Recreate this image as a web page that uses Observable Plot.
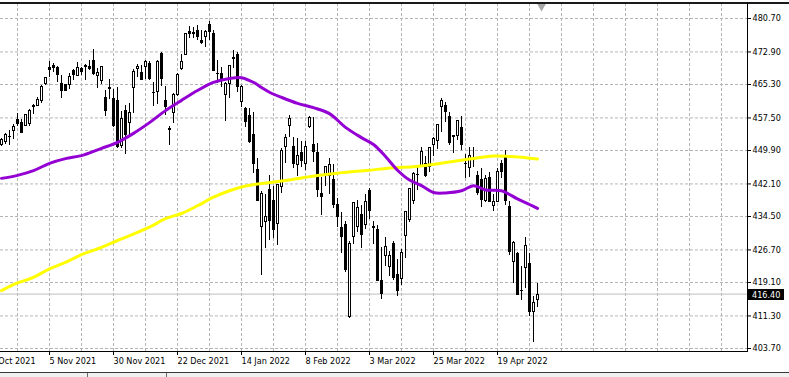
<!DOCTYPE html>
<html><head><meta charset="utf-8">
<script src="https://cdn.jsdelivr.net/npm/d3@7"></script>
<script src="https://cdn.jsdelivr.net/npm/@observablehq/plot@0.6"></script>
<style>
html,body{margin:0;padding:0;background:#fff;overflow:hidden}
svg{display:block}
</style></head><body><div id="chart"></div>
<script>
// Daily bars (trading days)
const dates = [
"2021-10-14","2021-10-15","2021-10-18","2021-10-19",
"2021-10-20","2021-10-21","2021-10-22","2021-10-25","2021-10-26","2021-10-27","2021-10-28","2021-10-29",
"2021-11-01","2021-11-02","2021-11-03","2021-11-04","2021-11-05","2021-11-08","2021-11-09","2021-11-10","2021-11-11","2021-11-12","2021-11-15","2021-11-16","2021-11-17","2021-11-18","2021-11-19","2021-11-22","2021-11-23","2021-11-24","2021-11-26","2021-11-29","2021-11-30",
"2021-12-01","2021-12-02","2021-12-03","2021-12-06","2021-12-07","2021-12-08","2021-12-09","2021-12-10","2021-12-13","2021-12-14","2021-12-15","2021-12-16","2021-12-17","2021-12-20","2021-12-21","2021-12-22","2021-12-23","2021-12-27","2021-12-28","2021-12-29","2021-12-30","2021-12-31",
"2022-01-03","2022-01-04","2022-01-05","2022-01-06","2022-01-07","2022-01-10","2022-01-11","2022-01-12","2022-01-13","2022-01-14","2022-01-18","2022-01-19","2022-01-20","2022-01-21","2022-01-24","2022-01-25","2022-01-26","2022-01-27","2022-01-28","2022-01-31",
"2022-02-01","2022-02-02","2022-02-03","2022-02-04","2022-02-07","2022-02-08","2022-02-09","2022-02-10","2022-02-11","2022-02-14","2022-02-15","2022-02-16","2022-02-17","2022-02-18","2022-02-22","2022-02-23","2022-02-24","2022-02-25","2022-02-28",
"2022-03-01","2022-03-02","2022-03-03","2022-03-04","2022-03-07","2022-03-08","2022-03-09","2022-03-10","2022-03-11","2022-03-14","2022-03-15","2022-03-16","2022-03-17","2022-03-18","2022-03-21","2022-03-22","2022-03-23","2022-03-24","2022-03-25","2022-03-28","2022-03-29","2022-03-30","2022-03-31",
"2022-04-01","2022-04-04","2022-04-05","2022-04-06","2022-04-07","2022-04-08","2022-04-11","2022-04-12","2022-04-13","2022-04-14","2022-04-18","2022-04-19","2022-04-20","2022-04-21","2022-04-22","2022-04-25","2022-04-26","2022-04-27","2022-04-28","2022-04-29",
"2022-05-02","2022-05-03"];

const open = [439.08,444.75,443.97,448.92,
451.13,451.77,453.13,454.28,457.20,456.45,455.46,455.87,
460.30,460.22,461.30,465.36,469.28,469.70,469.32,465.58,465.21,465.12,468.64,467.15,469.00,469.24,469.61,470.89,467.22,466.06,462.34,464.07,462.00,
461.64,450.73,459.17,456.13,464.41,468.70,468.15,469.23,470.19,463.09,463.42,472.57,461.55,454.48,458.61,462.79,468.75,472.06,477.72,476.98,477.93,475.64,
476.30,479.22,477.16,467.89,467.95,462.70,465.23,471.59,472.19,461.19,459.74,458.13,453.75,445.56,432.03,433.06,440.72,438.26,432.68,441.24,
450.68,455.50,450.95,446.35,449.51,446.73,455.22,451.34,449.41,439.92,443.73,443.93,443.22,437.33,431.89,432.66,411.02,429.61,432.03,
435.04,432.37,440.47,431.75,431.55,419.62,425.14,422.52,428.12,420.89,419.77,429.89,433.59,438.00,444.34,445.86,446.91,445.94,451.16,452.06,460.02,460.34,457.89,
453.31,453.13,455.22,446.89,445.59,447.97,444.11,443.08,438.03,443.55,436.81,437.86,446.92,448.54,436.91,423.67,425.83,417.24,422.29,423.59,
412.07,415.01];

const high = [442.66,446.26,447.55,450.71,
452.73,453.83,454.67,455.90,458.49,457.16,458.40,459.56,
460.70,462.23,465.15,467.00,470.65,470.23,469.57,467.38,465.29,467.86,468.81,470.49,469.19,470.01,470.94,473.54,469.10,469.57,463.90,466.56,464.03,
464.67,459.07,460.30,460.79,468.88,470.00,469.63,470.90,470.56,465.74,470.86,472.87,464.74,455.40,463.21,467.81,472.19,477.31,478.81,478.56,479.00,477.85,
477.85,479.98,477.98,470.82,469.20,465.74,469.85,473.20,472.88,465.09,459.96,459.61,458.74,448.06,440.38,439.72,444.04,441.59,442.00,450.28,
453.63,458.12,452.97,452.78,451.99,451.92,457.88,457.71,451.61,443.50,446.28,448.06,446.57,438.66,435.50,433.26,428.76,437.84,438.20,
437.17,439.72,441.11,433.37,432.30,427.21,429.51,426.43,428.77,424.55,426.84,435.68,441.07,444.86,446.46,450.58,448.49,450.50,452.98,455.91,462.07,461.20,458.76,
453.46,456.91,457.83,448.93,450.69,450.63,445.00,445.75,444.11,444.73,439.75,445.80,447.57,450.01,438.08,428.69,426.04,422.92,429.64,425.87,
415.92,418.93];

const low = [438.58,444.09,443.27,448.27,
450.80,451.31,451.05,452.39,455.56,453.86,455.45,455.56,
458.20,460.08,460.83,464.99,466.92,468.20,465.88,462.04,463.75,464.11,466.23,467.07,467.48,466.34,468.50,467.35,464.45,465.19,457.77,461.73,455.30,
450.29,450.31,448.92,453.56,458.65,466.83,466.14,466.51,466.27,460.25,460.74,464.80,458.06,451.14,456.31,462.58,468.64,472.01,476.06,475.92,475.67,474.67,
473.85,475.58,468.28,465.43,464.65,456.60,462.05,468.94,463.44,459.90,455.31,451.46,444.50,437.95,420.76,427.15,428.86,429.45,427.82,439.81,
446.94,453.05,445.71,443.83,445.85,445.22,455.00,447.20,438.94,434.84,441.53,439.69,436.42,431.82,425.86,421.35,410.64,427.86,430.70,
427.11,431.57,433.80,427.88,419.36,415.12,422.82,420.44,419.53,415.79,418.42,424.80,433.19,437.22,440.68,445.86,443.71,444.76,448.43,450.06,454.14,456.47,451.16,
449.14,452.26,449.82,443.47,443.53,445.94,439.39,436.65,437.84,437.68,435.61,437.68,443.48,437.10,425.44,418.84,416.07,415.01,417.60,411.21,
405.02,413.36];

const close = [442.50,445.87,447.19,450.64,
452.41,453.59,453.12,455.55,455.96,453.94,458.32,459.25,
460.04,461.90,464.72,466.91,468.53,468.93,467.38,463.62,463.77,467.27,467.43,469.28,468.14,469.73,468.89,467.57,468.19,469.44,458.97,464.60,455.56,
450.50,457.40,453.42,458.79,468.28,469.52,466.35,470.74,466.57,463.36,470.60,466.45,459.87,454.98,463.06,467.69,470.60,477.26,476.87,477.48,476.16,474.96,
477.71,477.55,468.38,467.94,466.09,465.51,469.75,471.02,464.53,464.72,456.49,451.75,446.75,437.98,439.84,434.47,433.38,431.24,441.95,449.91,
452.95,457.35,446.60,448.70,447.26,450.94,457.54,449.32,440.46,439.02,446.10,446.60,437.06,434.23,429.57,421.95,428.30,437.75,436.63,
429.98,437.89,435.71,432.17,419.43,416.25,427.41,425.48,420.07,417.00,426.17,435.62,441.07,444.52,444.39,449.59,443.80,450.49,452.69,455.91,461.55,458.70,451.64,
452.92,456.80,451.03,446.52,448.77,447.57,439.92,438.29,443.31,437.79,437.97,445.04,444.71,438.06,426.04,428.51,416.10,417.27,427.81,412.00,
414.48,416.38];

const ma50Dates = ["2021-10-20","2021-10-26","2021-11-01","2021-11-05","2021-11-11","2021-11-17","2021-11-24","2021-12-01","2021-12-07","2021-12-13","2021-12-17","2021-12-23","2021-12-30","2022-01-05","2022-01-11","2022-01-14","2022-01-20","2022-01-24","2022-01-26","2022-01-31","2022-02-04","2022-02-10","2022-02-16","2022-02-23","2022-03-01","2022-03-04","2022-03-09","2022-03-14","2022-03-17","2022-03-22","2022-03-25","2022-03-30","2022-04-05","2022-04-08","2022-04-13","2022-04-20","2022-04-26","2022-04-29","2022-05-03"];
const ma50Values = [443.4,444.1,445.2,446.9,448.0,448.7,450.4,451.8,453.9,456.4,459.2,461.6,463.9,465.8,466.7,466.9,465.8,464.6,463.5,462.3,460.9,459.9,458.5,455.3,452.9,451.3,448.5,445.3,443.0,441.7,440.1,440.0,440.5,441.7,440.7,440.5,438.6,437.3,436.4];

const ma200Dates = ["2021-10-20","2021-10-26","2021-11-01","2021-11-05","2021-11-11","2021-11-17","2021-11-24","2021-12-01","2021-12-07","2021-12-13","2021-12-17","2021-12-23","2021-12-30","2022-01-05","2022-01-11","2022-01-18","2022-01-24","2022-01-31","2022-02-07","2022-02-14","2022-02-18","2022-02-25","2022-03-03","2022-03-11","2022-03-18","2022-03-23","2022-03-31","2022-04-07","2022-04-18","2022-04-22","2022-04-27","2022-05-03"];
const ma200Values = [417.2,419.0,420.3,422.3,423.8,425.6,427.3,428.9,430.4,432.0,434.0,435.2,437.0,439.0,440.5,441.6,442.2,442.8,443.5,444.2,444.6,445.0,445.3,445.9,446.1,446.4,447.2,447.9,448.6,448.5,448.3,447.9];

const yTicks = [480.70,472.90,465.30,457.50,449.90,442.10,434.50,426.70,419.10,411.30,403.70];
const tickDates = ["2021-10-14","2021-11-05","2021-11-30","2021-12-22","2022-01-14","2022-02-08","2022-03-03","2022-03-25","2022-04-19"];
const tickLabels = ["14 Oct 2021","5 Nov 2021","30 Nov 2021","22 Dec 2021","14 Jan 2022","8 Feb 2022","3 Mar 2022","25 Mar 2022","19 Apr 2022"];
const lastPrice = 416.40;

const idx = d => dates.indexOf(d);
const bars = dates.map((d, i) => ({i, o: open[i], h: high[i], l: low[i], c: close[i]}));
const bulls = bars.filter(d => d.c >= d.o);
const dojis = bars.filter(d => Math.abs(d.c - d.o) < 0.25);
const ma50 = ma50Dates.map((d, k) => ({i: idx(d), v: ma50Values[k]}));
const ma200 = ma200Dates.map((d, k) => ({i: idx(d), v: ma200Values[k]}));

const x0 = idx("2021-10-20") - 0.25;
const xDomain = [x0, x0 + 186.75];
const yDomain = [403.0, 484.2];
const gridIdx = d3.range(0, 192, 8);

const crisp = {shapeRendering: "crispEdges", clip: true};

const chart = Plot.plot({
  width: 789, height: 377,
  marginLeft: 0, marginRight: 42, marginTop: 3, marginBottom: 26,
  style: {fontFamily: '"DejaVu Sans Condensed","DejaVu Sans",sans-serif', fontStretch: "condensed", fontSize: "9px", color: "black", background: "white", overflow: "hidden"},
  x: {type: "linear", domain: xDomain},
  y: {type: "linear", domain: yDomain},
  marks: [
    Plot.gridY({ticks: yTicks, stroke: "#b4b4b4", strokeOpacity: 1, strokeDasharray: "3,2"}),
    Plot.gridX({ticks: gridIdx, stroke: "#b4b4b4", strokeOpacity: 1, strokeDasharray: "3,2"}),
    Plot.ruleY([lastPrice], {stroke: "#bdbdbd", strokeWidth: 1}),
    // wicks
    Plot.ruleX(bars, {x: "i", y1: "l", y2: "h", stroke: "black", strokeWidth: 1, ...crisp}),
    // body outline / solid body (3px)
    Plot.rect(bars, {x1: d => d.i - 0.3125, x2: d => d.i + 0.4375, y1: "o", y2: "c", fill: "black", ...crisp}),
    // hollow interior for rising bars (1px)
    Plot.rect(bulls, {x1: d => d.i - 0.0625, x2: d => d.i + 0.1875, y1: "o", y2: "c", insetTop: 1, insetBottom: 1, fill: "white", ...crisp}),
    Plot.ruleY(dojis, {y: "c", x1: d => d.i - 0.3125, x2: d => d.i + 0.4375, stroke: "black", ...crisp}),
    Plot.line(ma200, {x: "i", y: "v", stroke: "#ffff00", strokeWidth: 3, curve: "catmull-rom", clip: true}),
    Plot.line(ma50, {x: "i", y: "v", stroke: "#9400d3", strokeWidth: 3, curve: "catmull-rom", clip: true}),
    Plot.axisY({anchor: "right", ticks: yTicks, tickFormat: d => d.toFixed(2), tickSize: 3, tickPadding: 2, label: null}),
    Plot.axisX({anchor: "bottom", ticks: tickDates.map(idx), tickFormat: i => tickLabels[tickDates.indexOf(dates[i])], textAnchor: "start", tickSize: 4, tickPadding: 2, label: null}),
    Plot.dot([dates.length], {x: d => d, frameAnchor: "top", dy: 3, symbol: "triangle", rotate: 180, r: 3.2, fill: "#a8a8a8", stroke: "none"})
  ]
});

document.getElementById("chart").appendChild(chart);

// Chart frame and price tag, positioned from the plot's own scales
const svg = d3.select(chart);
const ys = chart.scale("y"), xs = chart.scale("x");
const yTop = ys.range[1], yBot = ys.range[0], xRight = xs.range[1];
const W = 789;
svg.append("line").attr("x1", 0).attr("x2", W).attr("y1", yTop).attr("y2", yTop).attr("stroke", "#1a1a1a").attr("stroke-width", 2);
svg.append("line").attr("x1", xRight + 0.5).attr("x2", xRight + 0.5).attr("y1", yTop).attr("y2", yBot + 1).attr("stroke", "black");
svg.append("line").attr("x1", 0).attr("x2", xRight + 1).attr("y1", yBot + 0.5).attr("y2", yBot + 0.5).attr("stroke", "black");
const py = ys.apply(lastPrice);
svg.append("rect").attr("x", xRight + 1).attr("y", Math.round(py) - 5).attr("width", 36).attr("height", 11).attr("fill", "black");
svg.append("text").attr("x", xRight + 5).attr("y", Math.round(py) + 0.5).attr("dy", "0.35em").attr("fill", "white")
  .attr("text-anchor", "start").attr("font-size", "9px").text(lastPrice.toFixed(2));
// bottom window strip
svg.append("rect").attr("x", 0).attr("y", 373).attr("width", W).attr("height", 4).attr("fill", "#f0f0f0");
svg.append("line").attr("x1", 0).attr("x2", W).attr("y1", 372.5).attr("y2", 372.5).attr("stroke", "#3a3a3a");
[87, 166].forEach(x => svg.append("line").attr("x1", x + 0.5).attr("x2", x + 0.5).attr("y1", 373).attr("y2", 377).attr("stroke", "#6a6a6a"));
</script>
</body></html>
